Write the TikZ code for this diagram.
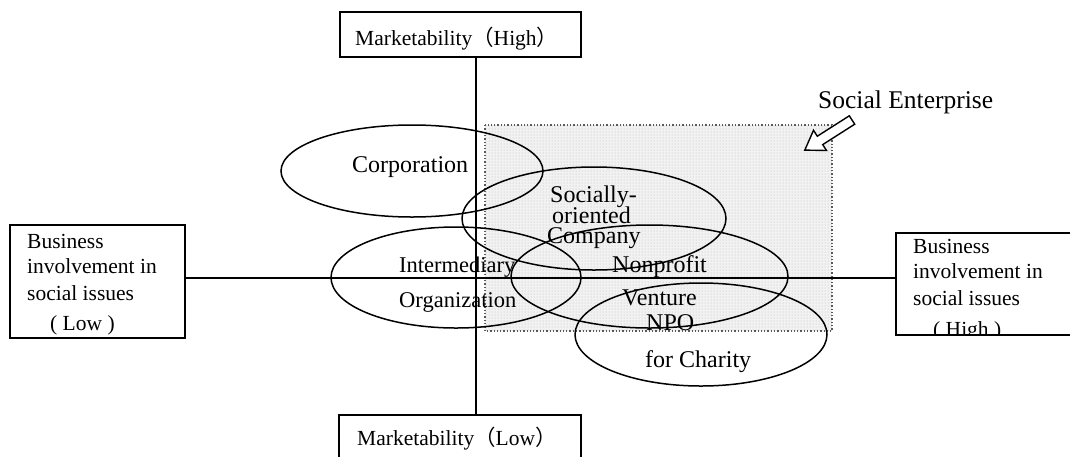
\documentclass[tikz,border=0pt]{standalone}
\usepackage{fontspec}
\setmainfont{Liberation Serif}
\newfontfamily\cjk{Noto Sans CJK SC}
\usetikzlibrary{shapes.geometric,patterns}
\begin{document}
\begin{tikzpicture}[x=1pt,y=-1pt,
  axisbox/.style={draw,line width=1.2pt,rectangle,inner sep=0pt},
  oval/.style={draw,line width=1.5pt,ellipse,inner sep=0pt},
  axisline/.style={line width=1.4pt},
  boxtxt/.style={anchor=base west,inner sep=0pt,font=\fontsize{21.5}{26}\selectfont},
  ovtxt/.style={anchor=base west,inner sep=0pt,font=\fontsize{24}{28}\selectfont},
  ovtxts/.style={anchor=base west,inner sep=0pt,font=\fontsize{22.5}{26}\selectfont}]
\useasboundingbox (0,0) rectangle (1070,456);
\clip (0,0) rectangle (1070,456);
% shaded social enterprise region
\fill[gray!10] (485,125) rectangle (832,331);
\fill[pattern=dots,pattern color=gray!55] (485,125) rectangle (832,331);
\draw[dotted,line width=1.3pt,gray!70!black] (485,125) rectangle (832,331);
% axis boxes
\node[axisbox,minimum width=241pt,minimum height=45pt] (tbox) at (460.5,34.5) {};
\node[axisbox,minimum width=242pt,minimum height=60pt] (bbox) at (460,445) {};
\node[axisbox,minimum width=175pt,minimum height=113pt] (lbox) at (97.5,281.5) {};
\node[axisbox,minimum width=180pt,minimum height=102pt] (rbox) at (986,284) {};
\coordinate (vx) at (476,0);
\coordinate (hy) at (0,278);
\draw[axisline] (tbox.south -| vx) -- (bbox.north -| vx);
\draw[axisline] (lbox.east |- hy) -- (rbox.west |- hy);
% ovals
\node[oval,minimum width=262pt,minimum height=92pt] (corp) at (412,171) {};
\node[oval,minimum width=264pt,minimum height=103pt] (soc) at (594,218.5) {};
\node[oval,minimum width=250pt,minimum height=101pt] (inter) at (456,277.5) {};
\node[oval,minimum width=277pt,minimum height=103pt] (nonp) at (649.5,276.5) {};
\node[oval,minimum width=252pt,minimum height=103pt] (npo) at (701,334.5) {};
% box texts
\node[boxtxt] (tt) at (355,45) {Marketability{\cjk （}High{\cjk ）}};
\node[boxtxt] (bt) at (357,445) {Marketability{\cjk （}Low{\cjk ）}};
\node[boxtxt] (l1) at (27,248) {Business};
\node[boxtxt] (l2) at (27,273) {involvement in};
\node[boxtxt] (l3) at (27,300) {social issues};
\node[boxtxt] (l4) at (50,330) {( Low )};
\node[boxtxt] (r1) at (913,253) {Business};
\node[boxtxt] (r2) at (913,278) {involvement in};
\node[boxtxt] (r3) at (913,305) {social issues};
\begin{scope}
\clip (896,233) rectangle (1070,334.4);
\node[boxtxt] (r4) at (933,336) {( High )};
\end{scope}
% oval texts
\node[ovtxt] (corpt) at (352,172) {Corporation};
\node[ovtxt] (soc1) at (550,202) {Socially-};
\node[ovtxt] (soc2) at (552,223) {oriented};
\node[ovtxt] (soc3) at (547,243) {Company};
\node[ovtxts] (int1) at (399,272) {Intermediary};
\node[ovtxts] (int2) at (399,307) {Organization};
\node[ovtxt] (np1) at (612,272) {Nonprofit};
\node[ovtxt] (np2) at (622,305) {Venture};
\node[ovtxt] (npo1) at (646,330) {NPO};
\node[ovtxt] (npo2) at (645,367) {for Charity};
% social enterprise label and hollow arrow
\node[anchor=base west,inner sep=0pt,font=\fontsize{25.5}{30}\selectfont] (se) at (818,108) {Social Enterprise};
\draw[line width=1.4pt,fill=white,line join=miter]
  (804.8,150.1) -- (826.5,150.5) -- (822.7,144.6) -- (854.7,124.2)
  -- (849.3,115.8) -- (817.3,136.2) -- (813.5,130.3) -- cycle;
\end{tikzpicture}
\end{document}
